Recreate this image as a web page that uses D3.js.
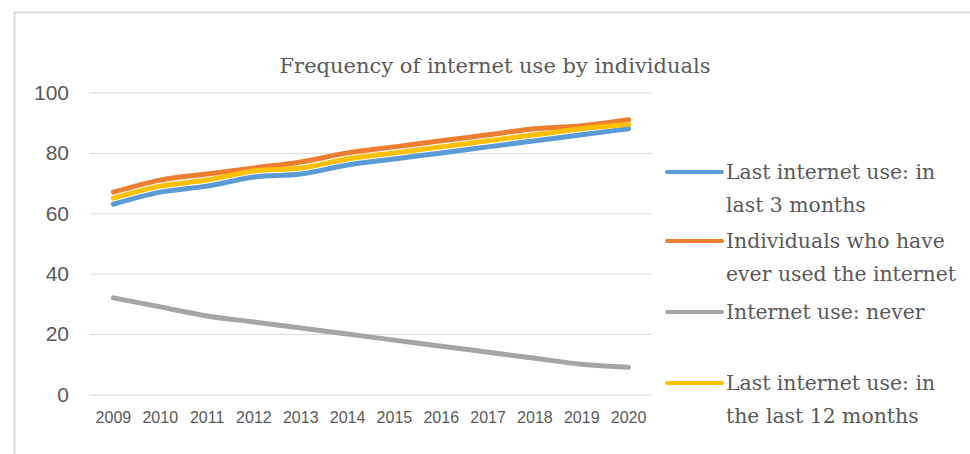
<!DOCTYPE html>
<html>
<head>
<meta charset="utf-8">
<script src="https://cdn.jsdelivr.net/npm/d3@7"></script>
<style>
  body { margin: 0; background: #fff; }
  .title, .legendText { font-family: "DejaVu Serif", serif; fill: #595959; }
  .axis text { font-family: "Liberation Sans", sans-serif; fill: #595959; }
</style>
</head>
<body>
<svg id="chart" width="970" height="454"></svg>
<script>
// chart data
const years = ['2009', '2010', '2011', '2012', '2013', '2014', '2015', '2016', '2017', '2018', '2019', '2020'];
const last3Months = [63, 67, 69, 72, 73, 76, 78, 80, 82, 84, 86, 88];
const everUsed = [67, 71, 73, 75, 77, 80, 82, 84, 86, 88, 89, 91];
const neverUsed = [32, 29, 26, 24, 22, 20, 18, 16, 14, 12, 10, 9];
const last12Months = [65, 69, 71, 74, 75, 78, 80, 82, 84, 86, 88, 89.5];
const yTicks = [0, 20, 40, 60, 80, 100];

const series = [
    { name: ['Last internet use: in', 'last 3 months'], values: last3Months, color: '#5B9BD5' },
    { name: ['Individuals who have', 'ever used the internet'], values: everUsed, color: '#ED7D31' },
    { name: ['Internet use: never'], values: neverUsed, color: '#A5A5A5' },
    { name: ['Last internet use: in', 'the last 12 months'], values: last12Months, color: '#FFC000' }
];

const svg = d3.select('#chart');

// outer frame (runs past right / bottom edge like the screenshot)
svg.append('rect')
    .attr('x', 14.5).attr('y', 12.5)
    .attr('width', 1000).attr('height', 480)
    .attr('fill', 'none')
    .attr('stroke', '#d9d9d9')
    .attr('stroke-width', 2);

const margin = { top: 92.5, left: 90, right: 318, bottom: 59.5 };
const width = 970 - margin.left - margin.right;
const height = 454 - margin.top - margin.bottom;

const g = svg.append('g')
    .attr('transform', 'translate(' + margin.left + ',' + margin.top + ')');

const xScale = d3.scaleBand()
    .domain(years)
    .range([0, width]);

const yScale = d3.scaleLinear()
    .domain([0, 100])
    .range([height, 0]);

// gridlines + y labels
const yAxis = g.append('g')
    .attr('class', 'axis')
    .call(d3.axisLeft(yScale).tickValues(yTicks).tickSize(-width).tickPadding(21));
yAxis.select('.domain').remove();
yAxis.selectAll('line').attr('stroke', '#d9d9d9');
yAxis.selectAll('text').attr('font-size', '21px');

// x labels
const xAxis = g.append('g')
    .attr('class', 'axis')
    .attr('transform', 'translate(0,' + height + ')')
    .call(d3.axisBottom(xScale).tickSize(0).tickPadding(17));
xAxis.select('.domain').remove();
xAxis.selectAll('text').attr('font-size', '16px');

// lines
const line = d3.line()
    .x((d, i) => xScale(years[i]) + xScale.bandwidth() / 2)
    .y(d => yScale(d))
    .curve(d3.curveMonotoneX);

g.selectAll('.series')
    .data(series)
    .enter()
    .append('path')
    .attr('class', 'series')
    .attr('d', d => line(d.values))
    .attr('fill', 'none')
    .attr('stroke', d => d.color)
    .attr('stroke-width', 5)
    .attr('stroke-linecap', 'round');

// title
svg.append('text')
    .attr('class', 'title')
    .attr('x', 495)
    .attr('y', 73)
    .attr('text-anchor', 'middle')
    .attr('font-size', '21px')
    .text('Frequency of internet use by individuals');

// legend
const legendY = [172, 241, 312, 383];
const legend = svg.selectAll('.legendItem')
    .data(series)
    .enter()
    .append('g')
    .attr('class', 'legendItem')
    .attr('transform', (d, i) => 'translate(667,' + legendY[i] + ')');

legend.append('line')
    .attr('x1', 0).attr('x2', 55)
    .attr('stroke', d => d.color)
    .attr('stroke-width', 4)
    .attr('stroke-linecap', 'round');

legend.append('text')
    .attr('class', 'legendText')
    .attr('x', 59)
    .attr('y', 7)
    .attr('font-size', '20.4px')
    .selectAll('tspan')
    .data(d => d.name)
    .enter()
    .append('tspan')
    .attr('x', 59)
    .attr('dy', (d, i) => i === 0 ? 0 : 33)
    .text(d => d);
</script>
</body>
</html>
